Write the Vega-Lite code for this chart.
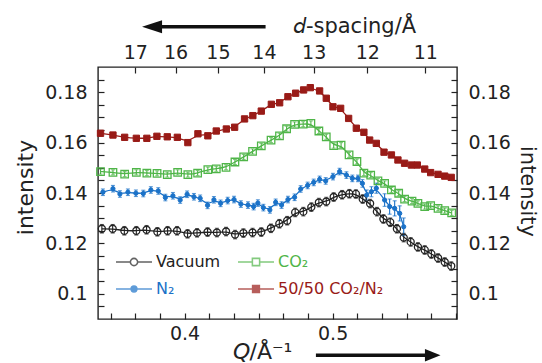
{
  "$schema": "https://vega.github.io/schema/vega-lite/v6.json",
  "width": 359,
  "height": 252,
  "autosize": {"type": "none"},
  "padding": {"left": 98, "top": 67, "right": 85, "bottom": 44},
  "background": "white",
  "config": {
    "font": "DejaVu Sans, sans-serif",
    "view": {"stroke": "#222222", "strokeWidth": 1.4},
    "axis": {
      "domain": false, "grid": false, "tickColor": "#222222", "tickWidth": 1.2,
      "labelFontSize": 19, "labelColor": "#222222", "labelOverlap": false, "labelFlush": false, "labelBound": false,
      "titleFontWeight": "normal", "titleColor": "#222222", "titleFontSize": 21
    }
  },
  "datasets": {
    "pts": [
      {"series":"Vacuum","Q":0.3441,"I":0.1258,"err":0.0017},
      {"series":"Vacuum","Q":0.3514,"I":0.1258,"err":0.0017},
      {"series":"Vacuum","Q":0.3593,"I":0.1250,"err":0.0017},
      {"series":"Vacuum","Q":0.3674,"I":0.1250,"err":0.0017},
      {"series":"Vacuum","Q":0.3743,"I":0.1254,"err":0.0017},
      {"series":"Vacuum","Q":0.3816,"I":0.1246,"err":0.0017},
      {"series":"Vacuum","Q":0.3885,"I":0.1250,"err":0.0017},
      {"series":"Vacuum","Q":0.3949,"I":0.1250,"err":0.0017},
      {"series":"Vacuum","Q":0.4020,"I":0.1238,"err":0.0017},
      {"series":"Vacuum","Q":0.4084,"I":0.1242,"err":0.0017},
      {"series":"Vacuum","Q":0.4155,"I":0.1245,"err":0.0017},
      {"series":"Vacuum","Q":0.4218,"I":0.1243,"err":0.0017},
      {"series":"Vacuum","Q":0.4280,"I":0.1247,"err":0.0017},
      {"series":"Vacuum","Q":0.4341,"I":0.1235,"err":0.0017},
      {"series":"Vacuum","Q":0.4397,"I":0.1241,"err":0.0017},
      {"series":"Vacuum","Q":0.4459,"I":0.1243,"err":0.0017},
      {"series":"Vacuum","Q":0.4518,"I":0.1245,"err":0.0017},
      {"series":"Vacuum","Q":0.4583,"I":0.1260,"err":0.0017},
      {"series":"Vacuum","Q":0.4640,"I":0.1278,"err":0.0017},
      {"series":"Vacuum","Q":0.4693,"I":0.1290,"err":0.0017},
      {"series":"Vacuum","Q":0.4747,"I":0.1323,"err":0.0017},
      {"series":"Vacuum","Q":0.4802,"I":0.1326,"err":0.0017},
      {"series":"Vacuum","Q":0.4856,"I":0.1344,"err":0.0017},
      {"series":"Vacuum","Q":0.4907,"I":0.1362,"err":0.0017},
      {"series":"Vacuum","Q":0.4957,"I":0.1366,"err":0.0017},
      {"series":"Vacuum","Q":0.5007,"I":0.1384,"err":0.0017},
      {"series":"Vacuum","Q":0.5064,"I":0.1393,"err":0.0017},
      {"series":"Vacuum","Q":0.5113,"I":0.1397,"err":0.0017},
      {"series":"Vacuum","Q":0.5157,"I":0.1396,"err":0.0017},
      {"series":"Vacuum","Q":0.5203,"I":0.1376,"err":0.0017},
      {"series":"Vacuum","Q":0.5253,"I":0.1358,"err":0.0017},
      {"series":"Vacuum","Q":0.5299,"I":0.1326,"err":0.0017},
      {"series":"Vacuum","Q":0.5343,"I":0.1297,"err":0.0017},
      {"series":"Vacuum","Q":0.5389,"I":0.1284,"err":0.0017},
      {"series":"Vacuum","Q":0.5434,"I":0.1258,"err":0.0017},
      {"series":"Vacuum","Q":0.5480,"I":0.1223,"err":0.0017},
      {"series":"Vacuum","Q":0.5527,"I":0.1206,"err":0.0017},
      {"series":"Vacuum","Q":0.5576,"I":0.1186,"err":0.0017},
      {"series":"Vacuum","Q":0.5622,"I":0.1174,"err":0.0017},
      {"series":"Vacuum","Q":0.5667,"I":0.1158,"err":0.0017},
      {"series":"Vacuum","Q":0.5712,"I":0.1142,"err":0.0017},
      {"series":"Vacuum","Q":0.5757,"I":0.1126,"err":0.0017},
      {"series":"Vacuum","Q":0.5801,"I":0.1110,"err":0.0017},
      {"series":"CO₂","Q":0.3432,"I":0.1485,"err":0.001},
      {"series":"CO₂","Q":0.3516,"I":0.1482,"err":0.001},
      {"series":"CO₂","Q":0.3595,"I":0.1475,"err":0.001},
      {"series":"CO₂","Q":0.3674,"I":0.1482,"err":0.001},
      {"series":"CO₂","Q":0.3745,"I":0.1479,"err":0.001},
      {"series":"CO₂","Q":0.3814,"I":0.1478,"err":0.001},
      {"series":"CO₂","Q":0.3883,"I":0.1473,"err":0.001},
      {"series":"CO₂","Q":0.3953,"I":0.1482,"err":0.001},
      {"series":"CO₂","Q":0.4022,"I":0.1473,"err":0.001},
      {"series":"CO₂","Q":0.4088,"I":0.1479,"err":0.001},
      {"series":"CO₂","Q":0.4157,"I":0.1493,"err":0.001},
      {"series":"CO₂","Q":0.4214,"I":0.1496,"err":0.001},
      {"series":"CO₂","Q":0.4280,"I":0.1502,"err":0.001},
      {"series":"CO₂","Q":0.4340,"I":0.1523,"err":0.001},
      {"series":"CO₂","Q":0.4399,"I":0.1543,"err":0.001},
      {"series":"CO₂","Q":0.4459,"I":0.1565,"err":0.001},
      {"series":"CO₂","Q":0.4518,"I":0.1587,"err":0.001},
      {"series":"CO₂","Q":0.4584,"I":0.1610,"err":0.001},
      {"series":"CO₂","Q":0.4641,"I":0.1627,"err":0.001},
      {"series":"CO₂","Q":0.4689,"I":0.1655,"err":0.001},
      {"series":"CO₂","Q":0.4743,"I":0.1672,"err":0.001},
      {"series":"CO₂","Q":0.4801,"I":0.1673,"err":0.001},
      {"series":"CO₂","Q":0.4853,"I":0.1676,"err":0.001},
      {"series":"CO₂","Q":0.4907,"I":0.1646,"err":0.001},
      {"series":"CO₂","Q":0.4957,"I":0.1623,"err":0.001},
      {"series":"CO₂","Q":0.5007,"I":0.1588,"err":0.001},
      {"series":"CO₂","Q":0.5057,"I":0.1590,"err":0.001},
      {"series":"CO₂","Q":0.5111,"I":0.1551,"err":0.001},
      {"series":"CO₂","Q":0.5164,"I":0.1525,"err":0.001},
      {"series":"CO₂","Q":0.5211,"I":0.1479,"err":0.001},
      {"series":"CO₂","Q":0.5257,"I":0.1471,"err":0.001},
      {"series":"CO₂","Q":0.5306,"I":0.1448,"err":0.001},
      {"series":"CO₂","Q":0.5351,"I":0.1438,"err":0.001},
      {"series":"CO₂","Q":0.5397,"I":0.1412,"err":0.001},
      {"series":"CO₂","Q":0.5446,"I":0.1399,"err":0.001},
      {"series":"CO₂","Q":0.5486,"I":0.1376,"err":0.001},
      {"series":"CO₂","Q":0.5536,"I":0.1368,"err":0.001},
      {"series":"CO₂","Q":0.5576,"I":0.1359,"err":0.001},
      {"series":"CO₂","Q":0.5622,"I":0.1346,"err":0.001},
      {"series":"CO₂","Q":0.5662,"I":0.1350,"err":0.001},
      {"series":"CO₂","Q":0.5712,"I":0.1339,"err":0.001},
      {"series":"CO₂","Q":0.5757,"I":0.1330,"err":0.001},
      {"series":"CO₂","Q":0.5804,"I":0.1321,"err":0.001},
      {"series":"N₂","Q":0.3448,"I":0.1403,"err":0.0013},
      {"series":"N₂","Q":0.3516,"I":0.1417,"err":0.0013},
      {"series":"N₂","Q":0.3563,"I":0.1396,"err":0.0013},
      {"series":"N₂","Q":0.3617,"I":0.1403,"err":0.0013},
      {"series":"N₂","Q":0.3671,"I":0.1399,"err":0.0013},
      {"series":"N₂","Q":0.3721,"I":0.1398,"err":0.0013},
      {"series":"N₂","Q":0.3772,"I":0.1412,"err":0.0013},
      {"series":"N₂","Q":0.3822,"I":0.1408,"err":0.0013},
      {"series":"N₂","Q":0.3870,"I":0.1382,"err":0.0013},
      {"series":"N₂","Q":0.3921,"I":0.1389,"err":0.0013},
      {"series":"N₂","Q":0.3970,"I":0.1372,"err":0.0013},
      {"series":"N₂","Q":0.4017,"I":0.1395,"err":0.0013},
      {"series":"N₂","Q":0.4063,"I":0.1385,"err":0.0013},
      {"series":"N₂","Q":0.4105,"I":0.1379,"err":0.0013},
      {"series":"N₂","Q":0.4155,"I":0.1351,"err":0.0013},
      {"series":"N₂","Q":0.4198,"I":0.1373,"err":0.0013},
      {"series":"N₂","Q":0.4243,"I":0.1359,"err":0.0013},
      {"series":"N₂","Q":0.4291,"I":0.1370,"err":0.0013},
      {"series":"N₂","Q":0.4334,"I":0.1374,"err":0.0013},
      {"series":"N₂","Q":0.4380,"I":0.1356,"err":0.0013},
      {"series":"N₂","Q":0.4428,"I":0.1352,"err":0.0013},
      {"series":"N₂","Q":0.4466,"I":0.1346,"err":0.0013},
      {"series":"N₂","Q":0.4495,"I":0.1360,"err":0.0013},
      {"series":"N₂","Q":0.4532,"I":0.1342,"err":0.0013},
      {"series":"N₂","Q":0.4576,"I":0.1333,"err":0.0013},
      {"series":"N₂","Q":0.4615,"I":0.1363,"err":0.0013},
      {"series":"N₂","Q":0.4655,"I":0.1352,"err":0.0013},
      {"series":"N₂","Q":0.4698,"I":0.1374,"err":0.0013},
      {"series":"N₂","Q":0.4743,"I":0.1383,"err":0.0013},
      {"series":"N₂","Q":0.4784,"I":0.1416,"err":0.0013},
      {"series":"N₂","Q":0.4831,"I":0.1430,"err":0.0013},
      {"series":"N₂","Q":0.4872,"I":0.1442,"err":0.0013},
      {"series":"N₂","Q":0.4912,"I":0.1454,"err":0.0013},
      {"series":"N₂","Q":0.4953,"I":0.1448,"err":0.0013},
      {"series":"N₂","Q":0.5002,"I":0.1465,"err":0.0013},
      {"series":"N₂","Q":0.5047,"I":0.1485,"err":0.0013},
      {"series":"N₂","Q":0.5093,"I":0.1471,"err":0.0013},
      {"series":"N₂","Q":0.5133,"I":0.1458,"err":0.0013},
      {"series":"N₂","Q":0.5171,"I":0.1458,"err":0.0013},
      {"series":"N₂","Q":0.5201,"I":0.1438,"err":0.0015},
      {"series":"N₂","Q":0.5230,"I":0.1392,"err":0.002},
      {"series":"N₂","Q":0.5262,"I":0.1405,"err":0.002},
      {"series":"N₂","Q":0.5295,"I":0.1419,"err":0.002},
      {"series":"N₂","Q":0.5351,"I":0.1372,"err":0.0025},
      {"series":"N₂","Q":0.5385,"I":0.1346,"err":0.003},
      {"series":"N₂","Q":0.5419,"I":0.1339,"err":0.003},
      {"series":"N₂","Q":0.5453,"I":0.1319,"err":0.003},
      {"series":"N₂","Q":0.5480,"I":0.1266,"err":0.0035},
      {"series":"50/50 CO₂/N₂","Q":0.3432,"I":0.1637,"err":0},
      {"series":"50/50 CO₂/N₂","Q":0.3516,"I":0.1630,"err":0},
      {"series":"50/50 CO₂/N₂","Q":0.3595,"I":0.1621,"err":0},
      {"series":"50/50 CO₂/N₂","Q":0.3674,"I":0.1617,"err":0},
      {"series":"50/50 CO₂/N₂","Q":0.3745,"I":0.1617,"err":0},
      {"series":"50/50 CO₂/N₂","Q":0.3813,"I":0.1625,"err":0},
      {"series":"50/50 CO₂/N₂","Q":0.3883,"I":0.1623,"err":0},
      {"series":"50/50 CO₂/N₂","Q":0.3951,"I":0.1621,"err":0},
      {"series":"50/50 CO₂/N₂","Q":0.4022,"I":0.1600,"err":0},
      {"series":"50/50 CO₂/N₂","Q":0.4090,"I":0.1635,"err":0},
      {"series":"50/50 CO₂/N₂","Q":0.4157,"I":0.1627,"err":0},
      {"series":"50/50 CO₂/N₂","Q":0.4214,"I":0.1646,"err":0},
      {"series":"50/50 CO₂/N₂","Q":0.4282,"I":0.1654,"err":0},
      {"series":"50/50 CO₂/N₂","Q":0.4338,"I":0.1661,"err":0},
      {"series":"50/50 CO₂/N₂","Q":0.4405,"I":0.1694,"err":0},
      {"series":"50/50 CO₂/N₂","Q":0.4461,"I":0.1707,"err":0},
      {"series":"50/50 CO₂/N₂","Q":0.4518,"I":0.1725,"err":0},
      {"series":"50/50 CO₂/N₂","Q":0.4586,"I":0.1752,"err":0},
      {"series":"50/50 CO₂/N₂","Q":0.4642,"I":0.1758,"err":0},
      {"series":"50/50 CO₂/N₂","Q":0.4698,"I":0.1782,"err":0},
      {"series":"50/50 CO₂/N₂","Q":0.4750,"I":0.1796,"err":0},
      {"series":"50/50 CO₂/N₂","Q":0.4804,"I":0.1809,"err":0},
      {"series":"50/50 CO₂/N₂","Q":0.4849,"I":0.1818,"err":0},
      {"series":"50/50 CO₂/N₂","Q":0.4912,"I":0.1805,"err":0},
      {"series":"50/50 CO₂/N₂","Q":0.4957,"I":0.1776,"err":0},
      {"series":"50/50 CO₂/N₂","Q":0.5002,"I":0.1742,"err":0},
      {"series":"50/50 CO₂/N₂","Q":0.5054,"I":0.1736,"err":0},
      {"series":"50/50 CO₂/N₂","Q":0.5108,"I":0.1696,"err":0},
      {"series":"50/50 CO₂/N₂","Q":0.5160,"I":0.1657,"err":0},
      {"series":"50/50 CO₂/N₂","Q":0.5211,"I":0.1641,"err":0},
      {"series":"50/50 CO₂/N₂","Q":0.5250,"I":0.1610,"err":0},
      {"series":"50/50 CO₂/N₂","Q":0.5295,"I":0.1597,"err":0},
      {"series":"50/50 CO₂/N₂","Q":0.5347,"I":0.1562,"err":0},
      {"series":"50/50 CO₂/N₂","Q":0.5397,"I":0.1551,"err":0},
      {"series":"50/50 CO₂/N₂","Q":0.5441,"I":0.1531,"err":0},
      {"series":"50/50 CO₂/N₂","Q":0.5486,"I":0.1518,"err":0},
      {"series":"50/50 CO₂/N₂","Q":0.5532,"I":0.1511,"err":0},
      {"series":"50/50 CO₂/N₂","Q":0.5572,"I":0.1511,"err":0},
      {"series":"50/50 CO₂/N₂","Q":0.5622,"I":0.1495,"err":0},
      {"series":"50/50 CO₂/N₂","Q":0.5662,"I":0.1481,"err":0},
      {"series":"50/50 CO₂/N₂","Q":0.5712,"I":0.1474,"err":0},
      {"series":"50/50 CO₂/N₂","Q":0.5757,"I":0.1467,"err":0},
      {"series":"50/50 CO₂/N₂","Q":0.5801,"I":0.1462,"err":0}
    ]
  },
  "resolve": {"axis": {"x": "independent", "y": "independent"}},
  "layer": [
    {
      "data": {"name": "pts"},
      "mark": {"type": "line", "interpolate": "basis", "strokeWidth": 1.3, "clip": true},
      "encoding": {
        "x": {"field": "Q", "type": "quantitative", "scale": {"domain": [0.3415, 0.584], "nice": false, "zero": false},
          "axis": {"orient": "top", "values": [0.3667, 0.3939, 0.4225, 0.4536, 0.4872, 0.5234, 0.5626],
            "labelExpr": "format(round(2*PI/datum.value), 'd')", "tickSize": -6, "labelPadding": 15, "labelBaseline": "alphabetic",
            "title": "𝘥-spacing/Å", "titleX": 256, "titleY": -41, "titleAlign": "center", "titleBaseline": "middle", "titleAngle": 0}},
        "y": {"field": "I", "type": "quantitative", "scale": {"domain": [0.09, 0.19], "nice": false, "zero": false},
          "axis": {"orient": "right", "values": [0.095,0.1,0.105,0.11,0.115,0.12,0.125,0.13,0.135,0.14,0.145,0.15,0.155,0.16,0.165,0.17,0.175,0.18,0.185],
            "labelExpr": "abs(datum.value*50 - round(datum.value*50)) < 0.001 ? format(datum.value, '.2~f') : ''",
            "tickSize": -6, "labelPadding": 17, "labelAlign": "left", "labelBaseline": "middle",
            "title": "intensity", "titleFontSize": 21, "titleX": 69, "titleY": 124, "titleAngle": 90, "titleAlign": "center", "titleBaseline": "middle"}},
        "color": {"field": "series", "type": "nominal",
          "scale": {"domain": ["Vacuum", "CO₂", "N₂", "50/50 CO₂/N₂"], "range": ["#222222", "#4fb548", "#1b72c8", "#991b17"]},
          "legend": {
            "title": null, "orient": "none", "legendX": 28, "legendY": 187, "columns": 2, "direction": "horizontal", "padding": 0,
            "symbolSize": 100, "symbolStrokeWidth": 1.3, "symbolOpacity": 1, "labelFontSize": 16, "labelOffset": 14, "columnPadding": 14, "rowPadding": 11,
            "labelColor": {"expr": "datum.value === 'CO₂' ? '#4fb548' : datum.value === 'N₂' ? '#1b72c8' : datum.value === 'Vacuum' ? '#222222' : '#991b17'"}
          }}
      }
    },
    {
      "data": {"name": "pts"},
      "transform": [{"filter": "datum.err > 0"}],
      "mark": {"type": "errorbar", "ticks": {"size": 4}, "thickness": 1.1},
      "encoding": {
        "x": {"field": "Q", "type": "quantitative", "scale": {"domain": [0.3415, 0.584], "nice": false, "zero": false}, "axis": null},
        "y": {"field": "I", "type": "quantitative", "scale": {"domain": [0.09, 0.19], "nice": false, "zero": false}, "axis": null},
        "yError": {"field": "err"},
        "color": {"field": "series", "type": "nominal",
          "scale": {"domain": ["Vacuum", "CO₂", "N₂", "50/50 CO₂/N₂"], "range": ["#222222", "#4fb548", "#1b72c8", "#991b17"]}}
      }
    },
    {
      "data": {"name": "pts"},
      "transform": [{"filter": "datum.series === 'Vacuum'"}],
      "mark": {"type": "point", "shape": "circle", "filled": false, "size": 50, "strokeWidth": 1.3, "opacity": 1},
      "encoding": {
        "x": {"field": "Q", "type": "quantitative", "scale": {"domain": [0.3415, 0.584], "nice": false, "zero": false},
          "axis": {"orient": "bottom", "values": [0.35, 0.36667, 0.38333, 0.4, 0.41667, 0.43333, 0.45, 0.46667, 0.48333, 0.5, 0.51667, 0.53333, 0.55, 0.56667, 0.58333],
            "labelExpr": "abs(datum.value - 0.4) < 0.001 || abs(datum.value - 0.5) < 0.001 ? format(datum.value, '.1f') : ''",
            "tickSize": -6, "labelPadding": 11, "labelBaseline": "top",
            "title": "𝘘/Å⁻¹", "titleFontSize": 22, "titleX": 164, "titleY": 32, "titleAlign": "center", "titleBaseline": "middle"}},
        "y": {"field": "I", "type": "quantitative", "scale": {"domain": [0.09, 0.19], "nice": false, "zero": false},
          "axis": {"orient": "left", "values": [0.095,0.1,0.105,0.11,0.115,0.12,0.125,0.13,0.135,0.14,0.145,0.15,0.155,0.16,0.165,0.17,0.175,0.18,0.185],
            "labelExpr": "abs(datum.value*50 - round(datum.value*50)) < 0.001 ? format(datum.value, '.2~f') : ''",
            "tickSize": -6, "labelPadding": 17, "labelAlign": "right", "labelBaseline": "middle",
            "title": "intensity", "titleFontSize": 22, "titleX": -73, "titleY": 120, "titleAngle": -90, "titleAlign": "center", "titleBaseline": "middle"}},
        "color": {"field": "series", "type": "nominal",
          "scale": {"domain": ["Vacuum", "CO₂", "N₂", "50/50 CO₂/N₂"], "range": ["#222222", "#4fb548", "#1b72c8", "#991b17"]}}
      }
    },
    {
      "data": {"name": "pts"},
      "transform": [{"filter": "datum.series === 'CO₂'"}],
      "mark": {"type": "point", "shape": "square", "filled": false, "size": 56, "strokeWidth": 1.3, "opacity": 1},
      "encoding": {
        "x": {"field": "Q", "type": "quantitative", "scale": {"domain": [0.3415, 0.584], "nice": false, "zero": false}, "axis": null},
        "y": {"field": "I", "type": "quantitative", "scale": {"domain": [0.09, 0.19], "nice": false, "zero": false}, "axis": null},
        "color": {"field": "series", "type": "nominal",
          "scale": {"domain": ["Vacuum", "CO₂", "N₂", "50/50 CO₂/N₂"], "range": ["#222222", "#4fb548", "#1b72c8", "#991b17"]}}
      }
    },
    {
      "data": {"name": "pts"},
      "transform": [{"filter": "datum.series === 'N₂'"}],
      "mark": {"type": "point", "shape": "circle", "filled": false, "fill": "#1b72c8", "strokeWidth": 1, "size": 18, "opacity": 1},
      "encoding": {
        "x": {"field": "Q", "type": "quantitative", "scale": {"domain": [0.3415, 0.584], "nice": false, "zero": false}, "axis": null},
        "y": {"field": "I", "type": "quantitative", "scale": {"domain": [0.09, 0.19], "nice": false, "zero": false}, "axis": null},
        "color": {"field": "series", "type": "nominal",
          "scale": {"domain": ["Vacuum", "CO₂", "N₂", "50/50 CO₂/N₂"], "range": ["#222222", "#4fb548", "#1b72c8", "#991b17"]}}
      }
    },
    {
      "data": {"name": "pts"},
      "transform": [{"filter": "datum.series === '50/50 CO₂/N₂'"}],
      "mark": {"type": "point", "shape": "square", "filled": false, "fill": "#991b17", "strokeWidth": 1, "size": 40, "opacity": 1},
      "encoding": {
        "x": {"field": "Q", "type": "quantitative", "scale": {"domain": [0.3415, 0.584], "nice": false, "zero": false}, "axis": null},
        "y": {"field": "I", "type": "quantitative", "scale": {"domain": [0.09, 0.19], "nice": false, "zero": false}, "axis": null},
        "color": {"field": "series", "type": "nominal",
          "scale": {"domain": ["Vacuum", "CO₂", "N₂", "50/50 CO₂/N₂"], "range": ["#222222", "#4fb548", "#1b72c8", "#991b17"]}}
      }
    },
    {
      "data": {"name": "pts"},
      "transform": [{"filter": "false"}],
      "mark": {"type": "point", "strokeWidth": 1.3, "opacity": 1},
      "encoding": {
        "color": {"field": "series", "type": "nominal",
          "scale": {"domain": ["Vacuum", "CO₂", "N₂", "50/50 CO₂/N₂"], "range": ["#222222", "#4fb548", "#1b72c8", "#991b17"]}},
        "shape": {"field": "series", "type": "nominal",
          "scale": {"domain": ["Vacuum", "CO₂", "N₂", "50/50 CO₂/N₂"], "range": [
            "M-3.6,0H-0.75M0.75,0H3.6M0.75,0C0.75,0.41 0.41,0.75 0,0.75C-0.41,0.75 -0.75,0.41 -0.75,0C-0.75,-0.41 -0.41,-0.75 0,-0.75C0.41,-0.75 0.75,-0.41 0.75,0ZM0.7,0C0.7,-0.385 0.385,-0.7 0,-0.7C-0.385,-0.7 -0.7,-0.385 -0.7,0C-0.7,0.385 -0.385,0.7 0,0.7C0.385,0.7 0.7,0.385 0.7,0Z",
            "M-3.6,0H-0.75M0.75,0H3.6M-0.75,-0.75H0.75V0.75H-0.75ZM-0.7,-0.7V0.7H0.7V-0.7Z",
            "M-3.6,0H3.6M0.6,0C0.6,0.33 0.33,0.6 0,0.6C-0.33,0.6 -0.6,0.33 -0.6,0C-0.6,-0.33 -0.33,-0.6 0,-0.6C0.33,-0.6 0.6,-0.33 0.6,0Z",
            "M-3.6,0H3.6M-0.7,-0.7H0.7V0.7H-0.7Z"]}},
        "fill": {"field": "series", "type": "nominal",
          "scale": {"domain": ["Vacuum", "CO₂", "N₂", "50/50 CO₂/N₂"], "range": ["white", "white", "#1b72c8", "#991b17"]}}
      }
    },
    {
      "data": {"values": [{}]},
      "mark": {"type": "rule", "strokeWidth": 3.5, "color": "#111111", "clip": false},
      "encoding": {
        "x": {"datum": 0.378, "type": "quantitative", "scale": {"domain": [0.3415, 0.584], "nice": false, "zero": false}, "axis": null},
        "x2": {"datum": 0.4547},
        "y": {"datum": 0.206, "type": "quantitative", "scale": {"domain": [0.09, 0.19], "nice": false, "zero": false}, "axis": null}
      }
    },
    {
      "data": {"values": [{}]},
      "mark": {"type": "point", "shape": "M-1,0L1,-0.65L1,0.65Z", "filled": true, "size": 400, "color": "#111111", "opacity": 1, "clip": false},
      "encoding": {
        "x": {"datum": 0.378, "type": "quantitative", "scale": {"domain": [0.3415, 0.584], "nice": false, "zero": false}, "axis": null},
        "y": {"datum": 0.206, "type": "quantitative", "scale": {"domain": [0.09, 0.19], "nice": false, "zero": false}, "axis": null}
      }
    },
    {
      "data": {"values": [{}]},
      "mark": {"type": "rule", "strokeWidth": 3.5, "color": "#111111", "clip": false},
      "encoding": {
        "x": {"datum": 0.4887, "type": "quantitative", "scale": {"domain": [0.3415, 0.584], "nice": false, "zero": false}, "axis": null},
        "x2": {"datum": 0.5676},
        "y": {"datum": 0.0756, "type": "quantitative", "scale": {"domain": [0.09, 0.19], "nice": false, "zero": false}, "axis": null}
      }
    },
    {
      "data": {"values": [{}]},
      "mark": {"type": "point", "shape": "M1,0L-1,-0.8L-1,0.8Z", "filled": true, "size": 243, "color": "#111111", "opacity": 1, "clip": false},
      "encoding": {
        "x": {"datum": 0.5676, "type": "quantitative", "scale": {"domain": [0.3415, 0.584], "nice": false, "zero": false}, "axis": null},
        "y": {"datum": 0.0756, "type": "quantitative", "scale": {"domain": [0.09, 0.19], "nice": false, "zero": false}, "axis": null}
      }
    }
  ]
}
